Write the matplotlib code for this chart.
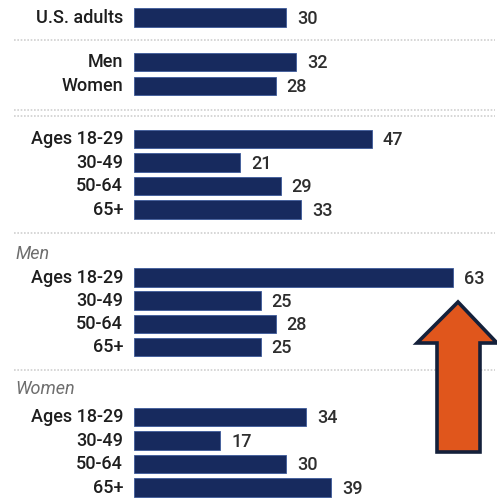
import matplotlib
matplotlib.use("Agg")
import matplotlib.pyplot as plt
from matplotlib.patches import Polygon

# --- data -------------------------------------------------------------
total_labels = ["U.S. adults"]
total_values = [30]

gender_labels = ["Men", "Women"]
gender_values = [32, 28]

age_labels = ["Ages 18-29", "30-49", "50-64", "65+"]
age_values = [47, 21, 29, 33]

men_age_values = [63, 25, 28, 25]
women_age_values = [34, 17, 30, 39]

# --- layout (figure pixel rows, top = 0) ------------------------------
W, H = 497, 498
x0_px = 134          # where bars start
px_per_unit = 5.06   # horizontal scale

rows_total = [17.5]
rows_gender = [62, 86]
rows_age = [139, 162.5, 186, 209.5]
rows_men = [277.5, 300.5, 324, 347]
rows_women = [417, 440.5, 464, 487.5]

bar_h = 18.5
navy = "#172a5e"
label_col = "#1e1e1e"
value_col = "#2e2e2e"

plt.rcParams["font.family"] = ["Roboto", "DejaVu Sans"]

fig = plt.figure(figsize=(W / 100, H / 100), dpi=100)
ax = fig.add_axes([0, 0, 1, 1])
ax.set_xlim(-x0_px / px_per_unit, (W - x0_px) / px_per_unit)
ax.set_ylim(H, 0)
ax.axis("off")

label_x = -11 / px_per_unit
value_pad = 11 / px_per_unit
fs = 13


def draw_group(rows, labels, values):
    ax.barh(rows, values, height=bar_h, color=navy, edgecolor="#3d5a9a",
            linewidth=0.6, zorder=2)
    for y, lab, v in zip(rows, labels, values):
        ax.text(label_x, y, lab, ha="right", va="center", fontsize=fs,
                color=label_col, fontweight="medium")
        ax.text(v + value_pad, y + 1, str(v), ha="left", va="center",
                fontsize=fs, color=value_col, fontweight="medium")


draw_group(rows_total, total_labels, total_values)
draw_group(rows_gender, gender_labels, gender_values)
draw_group(rows_age, age_labels, age_values)
draw_group(rows_men, age_labels, men_age_values)
draw_group(rows_women, age_labels, women_age_values)

# dotted separators
sep_x0 = (14 - x0_px) / px_per_unit
sep_x1 = (495 - x0_px) / px_per_unit
for y in [40, 110, 116, 233, 370]:
    ax.plot([sep_x0, sep_x1], [y, y], color="#cfcfcf", linewidth=1.2,
            linestyle=(0, (1, 1)), zorder=1)

# section headers
hdr_x = (15 - x0_px) / px_per_unit
ax.text(hdr_x, 254, "Men", ha="left", va="center", fontsize=fs,
        style="italic", color="#6e6e6e")
ax.text(hdr_x, 389, "Women", ha="left", va="center", fontsize=fs,
        style="italic", color="#6e6e6e")

# highlight arrow pointing at the tallest bar
arrow_px = [(458, 302), (497, 343), (480, 343), (480, 452),
            (437, 452), (437, 343), (417, 343)]
arrow = Polygon([((x - x0_px) / px_per_unit, y) for x, y in arrow_px],
                closed=True, facecolor="#e0561c", edgecolor="#14203a",
                linewidth=2.6, zorder=3, clip_on=False)
ax.add_patch(arrow)

fig.savefig("out.png", dpi=100)
